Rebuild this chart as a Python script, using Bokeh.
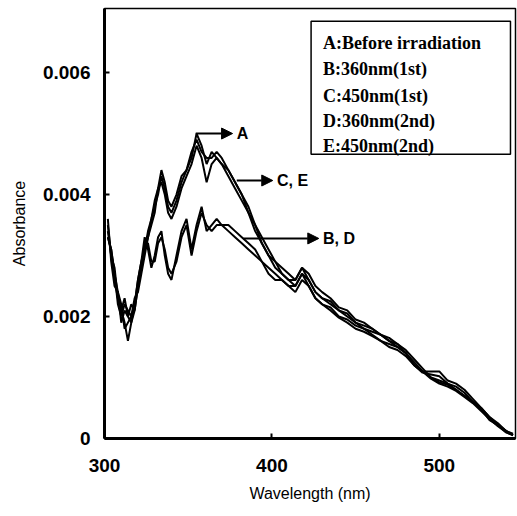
from bokeh.plotting import figure
from bokeh.models import (FixedTicker, CustomJSTickFormatter, Arrow, NormalHead, Label, Range1d)
from bokeh.embed import file_html
from bokeh.resources import INLINE

wavelength = [302, 304, 306, 308, 310, 312, 314, 316, 318, 320, 322, 324, 326, 328, 330, 332, 334, 336, 338, 340,
              343, 346, 349, 352, 355, 358, 361, 364, 367, 370,
              374, 378, 382, 386, 390, 394, 398, 402, 406, 410, 414, 418,
              422, 426, 430,
              435, 440, 445, 450, 455, 460, 465, 470, 475, 480, 485, 490, 495, 500, 505, 510, 515, 520, 525, 530, 535, 540, 544]

series_A = [.0035, .0030, .0026, .0023, .0021, .0023, .0020, .0022, .0021, .0025, .0028, .0031, .0033, .0036, .0038, .0040, .0043, .0041, .0038, .0037,
            .0039, .0042, .0044, .0046, .0050, .0048, .0045, .0047, .0046, .0045,
            .0044, .0042, .0040, .0037, .0035, .0032, .0030, .0029, .0027, .0026, .0026, .0028,
            .0026, .0024, .0023,
            .00225, .0021, .0020, .0019, .00185, .0018, .0017, .0016, .00155, .0014, .0012, .0011, .0010, .00092, .00088, .0008, .0007, .0006, .00048, .0003, .00022, .00012, .00006]

series_B = [.0033, .0031, .0027, .0024, .0022, .0018, .0019, .0020, .0022, .0026, .0029, .0033, .0031, .0028, .0030, .0033, .0034, .0030, .0027, .0026,
            .0030, .0034, .0036, .0031, .0035, .0038, .0034, .0035, .0036, .0035,
            .0035, .0034, .0033, .0032, .0031, .0029, .0028, .0027, .0026, .0025, .0025, .0027,
            .0025, .0023, .0022,
            .00215, .0020, .00195, .00185, .0018, .0017, .0016, .00155, .0015, .0014, .0012, .0011, .0011, .0011, .00095, .0009, .0008, .00065, .0005, .00035, .00025, .00012, .00008]

series_C = [.0033, .0031, .0027, .0022, .0020, .0022, .0021, .0020, .0023, .0024, .0027, .0030, .0033, .0035, .0037, .0041, .0042, .0040, .0037, .0036,
            .0038, .0041, .0043, .0045, .0048, .0046, .0042, .0045, .0046, .0045,
            .0043, .0041, .0039, .0037, .0034, .0032, .0030, .0028, .0027, .0026, .0025, .0027,
            .0026, .0024, .0023,
            .0022, .0021, .00205, .0019, .0018, .00175, .0017, .0016, .0015, .0014, .00125, .0011, .00098, .0009, .00085, .00078, .00068, .00058, .00045, .00032, .0002, .0001, .00005]

series_D = [.0034, .0030, .0028, .0023, .0021, .0019, .0016, .0019, .0021, .0025, .0028, .0032, .0032, .0029, .0029, .0032, .0033, .0031, .0028, .0027,
            .0029, .0033, .0035, .0030, .0034, .0037, .0035, .0034, .0035, .0035,
            .0034, .0033, .0032, .0031, .0030, .0029, .0027, .0026, .0026, .0025, .0024, .0026,
            .0025, .0023, .0022,
            .0021, .00198, .0019, .0018, .00175, .00168, .0016, .0015, .00145, .00135, .0012, .00108, .00105, .00102, .0009, .00085, .00075, .0006, .00048, .00032, .00022, .0001, .00006]

series_E = [.0036, .0029, .0025, .0024, .0019, .0021, .0020, .0019, .0022, .0026, .0029, .0031, .0034, .0036, .0039, .0041, .0044, .0042, .0039, .0038,
            .0040, .0043, .0044, .0047, .0049, .0047, .0046, .0046, .0047, .0046,
            .0044, .0042, .0040, .0038, .0035, .0033, .0031, .0029, .0028, .0027, .0026, .0028,
            .0027, .0025, .0024,
            .0023, .00215, .0021, .00195, .0019, .0018, .0017, .00165, .00155, .00145, .0013, .00115, .0010, .00095, .0009, .0008, .0007, .0006, .0005, .00035, .00022, .00012, .00006]

x_ticks = [300, 400, 500]
y_ticks = [0, 0.002, 0.004, 0.006]

legend_lines = ["A:Before irradiation", "B:360nm(1st)", "C:450nm(1st)", "D:360nm(2nd)", "E:450nm(2nd)"]
arrow_labels = ["A", "C, E", "B, D"]
arrow_start_x = [354.5, 379.0, 383.0]
arrow_end_x = [376.5, 400.5, 428.0]
arrow_y = [0.0050, 0.00423, 0.00328]

p = figure(width=517, height=516, output_backend="svg", toolbar_location=None,
           x_range=Range1d(300, 545.5), y_range=Range1d(0, 0.00705),
           min_border_left=104, min_border_right=2, min_border_top=8, min_border_bottom=78)
p.background_fill_color = "white"
p.border_fill_color = "white"
p.grid.visible = False
p.outline_line_color = "black"
p.outline_line_width = 1.5

for s in [series_A, series_B, series_C, series_D, series_E]:
    p.line(wavelength, s, line_color="black", line_width=2.0)

p.xaxis.ticker = FixedTicker(ticks=x_ticks)
p.yaxis.ticker = FixedTicker(ticks=y_ticks)
p.yaxis.formatter = CustomJSTickFormatter(code='return tick == 0 ? "0" : tick.toFixed(3);')
for ax in [p.xaxis, p.yaxis]:
    ax.axis_line_width = 3
    ax.axis_line_color = "black"
    ax.major_tick_in = 5
    ax.major_tick_out = 0
    ax.major_tick_line_width = 2
    ax.minor_tick_line_color = None
    ax.major_label_text_font = "Liberation Sans"
    ax.major_label_text_font_style = "bold"
    ax.major_label_text_font_size = "19px"
    ax.major_label_text_color = "black"
    ax.axis_label_text_font = "Liberation Sans"
    ax.axis_label_text_font_style = "normal"
    ax.axis_label_text_font_size = "16px"
    ax.axis_label_text_color = "black"
p.xaxis.axis_label = "Wavelength (nm)"
p.yaxis.axis_label = "Absorbance"
p.xaxis.major_label_standoff = 20
p.yaxis.major_label_standoff = 14
p.xaxis.axis_label_standoff = 10
p.yaxis.axis_label_standoff = 12

# legend box (text only, as in the original)
p.quad(left=[423.4], right=[542.5], bottom=[0.00466], top=[0.00684],
       fill_color="white", line_color="black", line_width=1.5)
legend_y = [0.00648, 0.00605, 0.00562, 0.00521, 0.00480]
for t, yy in zip(legend_lines, legend_y):
    p.add_layout(Label(x=430.5, y=yy, text=t, text_font="Liberation Serif", text_font_style="bold",
                       text_font_size="18px", text_baseline="middle", text_color="black"))

for lab, x0, x1, yy in zip(arrow_labels, arrow_start_x, arrow_end_x, arrow_y):
    p.add_layout(Arrow(end=NormalHead(size=11, fill_color="black", line_color="black"),
                       x_start=x0, y_start=yy, x_end=x1, y_end=yy, line_width=2, line_color="black"))
    p.add_layout(Label(x=x1 + 2.5, y=yy, text=lab, text_font="Liberation Sans", text_font_style="bold",
                       text_font_size="16px", text_baseline="middle", text_color="black"))

open("out.html", "w").write(file_html(p, INLINE))
